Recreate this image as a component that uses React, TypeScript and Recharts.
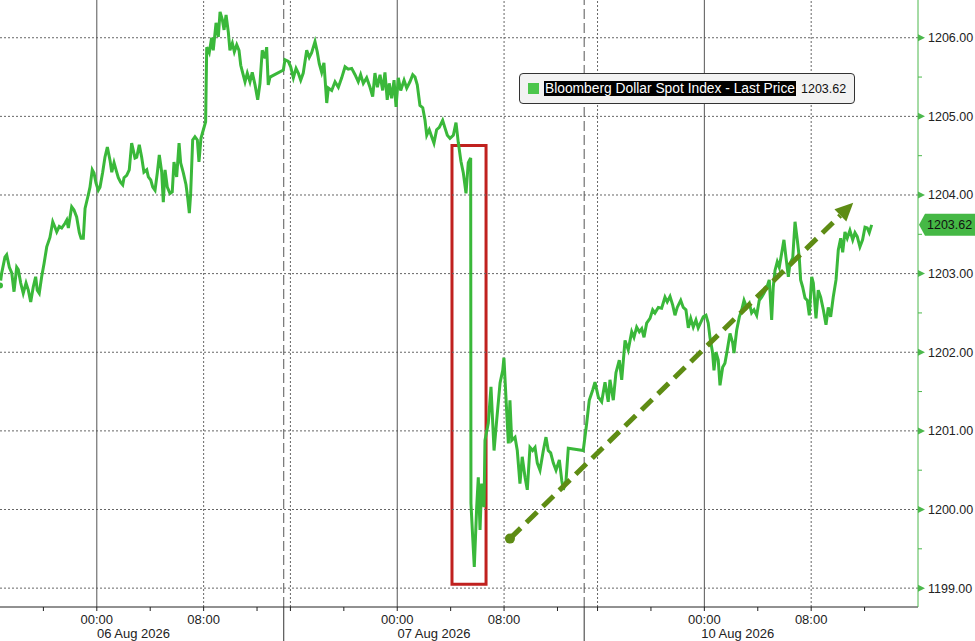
import { LineChart, Line, XAxis, YAxis, ReferenceLine, ReferenceArea } from 'recharts'

// x values are trading-session hours from the left edge (gaps between sessions squeezed out)
const aug6Times = [
  0.0, 0.13, 0.37, 0.5, 0.7, 0.88, 1.05, 1.25, 1.37, 1.55,
  1.74, 1.95, 2.12, 2.3, 2.49, 2.67, 2.79, 2.94, 3.12, 3.3,
  3.5, 3.74, 3.95, 4.12, 4.25, 4.44, 4.62, 4.87, 5.0, 5.12,
  5.24, 5.37, 5.54, 5.74, 5.94, 6.07, 6.24, 6.37, 6.61, 6.74,
  6.91, 7.04, 7.19, 7.36, 7.49, 7.69, 7.86, 8.04, 8.24, 8.37,
  8.54, 8.69, 8.86, 9.04, 9.19, 9.29, 9.49, 9.68, 9.86, 9.98,
  10.11, 10.24, 10.43, 10.61, 10.78, 10.99, 11.11, 11.29, 11.44, 11.61,
  11.78, 11.93, 12.11, 12.23, 12.36, 12.53, 12.73, 12.9, 13.03, 13.23,
  13.41, 13.53, 13.73, 13.93, 14.06, 14.18, 14.28, 14.43, 14.6, 14.78,
  14.9, 15.05, 15.23, 15.4, 15.48, 15.67, 15.85, 15.97, 16.18, 16.35,
  16.48, 16.65, 16.78, 16.93, 17.1, 17.22, 17.4, 17.55, 17.73, 17.9,
  18.03, 18.18, 18.35, 18.52, 18.72, 18.89, 19.1, 19.3, 19.47, 19.64,
  19.85, 19.97, 20.09, 20.22,
]
const aug6Prices = [
  1202.85, 1203.01, 1203.21, 1203.24, 1203.08, 1203.01, 1202.77, 1203.08, 1203.05, 1202.88,
  1202.75, 1202.88, 1202.79, 1202.64, 1202.83, 1202.96, 1202.79, 1202.75, 1202.96, 1203.13,
  1203.34, 1203.46, 1203.66, 1203.59, 1203.53, 1203.6, 1203.58, 1203.64, 1203.68, 1203.58,
  1203.71, 1203.85, 1203.81, 1203.72, 1203.52, 1203.45, 1203.45, 1203.83, 1204.0, 1204.1,
  1204.32, 1204.28, 1204.15, 1204.06, 1204.1, 1204.29, 1204.48, 1204.61, 1204.44, 1204.29,
  1204.41, 1204.32, 1204.22, 1204.16, 1204.13, 1204.22, 1204.25, 1204.32, 1204.66, 1204.57,
  1204.47, 1204.48, 1204.64, 1204.48, 1204.29, 1204.32, 1204.23, 1204.19, 1204.1, 1204.06,
  1204.28, 1204.51, 1204.29, 1203.91, 1204.32, 1204.1, 1204.02, 1204.04, 1204.42, 1204.23,
  1204.66, 1204.41, 1204.28, 1204.13, 1203.96, 1203.77, 1204.02, 1204.7, 1204.74, 1204.7,
  1204.42, 1204.72, 1204.83, 1204.93, 1205.88, 1205.81, 1206.0, 1205.84, 1206.19, 1206.01,
  1206.33, 1206.23, 1206.1, 1206.29, 1206.07, 1205.84, 1205.93, 1205.82, 1205.91, 1205.84,
  1205.65, 1205.55, 1205.44, 1205.55, 1205.44, 1205.56, 1205.4, 1205.21, 1205.42, 1205.84,
  1205.74, 1205.88, 1205.4, 1205.5,
]

const aug7Times = [
  21.22, 21.34, 21.59, 21.77, 21.97, 22.17, 22.34, 22.52, 22.71, 22.97,
  23.16, 23.34, 23.59, 23.76, 23.91, 24.09, 24.26, 24.47, 24.59, 24.84,
  25.09, 25.34, 25.59, 25.84, 26.08, 26.34, 26.59, 26.83, 27.01, 27.21,
  27.46, 27.71, 27.91, 28.08, 28.26, 28.46, 28.66, 28.83, 29.0, 29.15,
  29.33, 29.51, 29.66, 29.83, 30.01, 30.26, 30.46, 30.7, 30.91, 31.08,
  31.25, 31.45, 31.66, 31.83, 31.96, 32.15, 32.33, 32.5, 32.7, 32.9,
  33.15, 33.33, 33.5, 33.7, 33.95, 34.15, 34.32, 34.52, 34.7, 34.9,
  35.07, 35.25, 35.27, 35.4, 35.52, 35.7, 35.82, 35.95, 36.07, 36.25,
  36.32, 36.57, 36.77, 37.0, 37.2, 37.45, 37.65, 37.74, 37.89, 38.07,
  38.19, 38.32, 38.57, 38.74, 38.94, 39.11, 39.32, 39.49, 39.69, 39.89,
  40.07, 40.24, 40.44, 40.69, 40.89, 41.06, 41.24, 41.44, 41.64, 41.89,
  42.07, 42.19, 42.39, 42.56,
]
const aug7Prices = [
  1205.59, 1205.72, 1205.7, 1205.63, 1205.49, 1205.61, 1205.55, 1205.46, 1205.55, 1205.84,
  1205.75, 1205.81, 1205.95, 1205.82, 1205.67, 1205.56, 1205.68, 1205.17, 1205.36, 1205.33,
  1205.44, 1205.37, 1205.49, 1205.63, 1205.6, 1205.61, 1205.53, 1205.44, 1205.53, 1205.42,
  1205.49, 1205.37, 1205.25, 1205.55, 1205.37, 1205.53, 1205.33, 1205.56, 1205.21, 1205.42,
  1205.23, 1205.46, 1205.12, 1205.49, 1205.33, 1205.46, 1205.36, 1205.44, 1205.53, 1205.5,
  1205.4, 1205.14, 1205.11, 1204.95, 1204.76, 1204.83, 1204.74, 1204.66, 1204.83, 1204.86,
  1204.95, 1204.85, 1204.76, 1204.72, 1204.76, 1204.92, 1204.67, 1204.43, 1204.28, 1204.02,
  1204.41, 1204.47, 1200.08, 1199.65, 1199.27, 1200.03, 1200.41, 1199.74, 1200.33, 1200.03,
  1200.88, 1201.1, 1201.56, 1200.75, 1201.14, 1201.61, 1201.77, 1201.93, 1201.43, 1200.84,
  1201.39, 1200.88, 1200.92, 1200.75, 1200.33, 1200.67, 1200.41, 1200.25, 1200.79, 1200.75,
  1200.79, 1200.59, 1200.5, 1200.75, 1200.92, 1200.75, 1200.72, 1200.59, 1200.5, 1200.63,
  1200.37, 1200.25, 1200.37, 1200.78,
]

const aug10Times = [
  43.68, 43.94, 44.13, 44.39, 44.56, 44.81, 45.06, 45.31, 45.55, 45.68,
  45.93, 46.13, 46.38, 46.56, 46.81, 47.05, 47.31, 47.48, 47.68, 47.88,
  48.06, 48.23, 48.43, 48.68, 48.88, 49.05, 49.3, 49.55, 49.8, 49.97,
  50.18, 50.38, 50.55, 50.72, 50.98, 51.17, 51.37, 51.55, 51.73, 51.92,
  52.12, 52.29, 52.48, 52.67, 52.87, 53.04, 53.17, 53.37, 53.47, 53.62,
  53.79, 53.92, 54.12, 54.29, 54.47, 54.67, 54.87, 54.97, 55.17, 55.37,
  55.55, 55.72, 55.92, 56.12, 56.29, 56.47, 56.67, 56.86, 57.04, 57.21,
  57.42, 57.61, 57.79, 57.91, 58.04, 58.21, 58.36, 58.54, 58.71, 58.86,
  59.04, 59.16, 59.37, 59.54, 59.71, 59.86, 59.96, 60.11, 60.29, 60.46,
  60.61, 60.79, 60.91, 61.11, 61.28, 61.46, 61.66, 61.86, 62.03, 62.21,
  62.4, 62.61, 62.78, 62.96, 63.11, 63.28, 63.45, 63.65, 63.86, 64.03,
  64.2, 64.4, 64.6, 64.78, 64.95, 65.1, 65.28,
]
const aug10Prices = [
  1200.75, 1201.1, 1201.39, 1201.52, 1201.62, 1201.43, 1201.37, 1201.62, 1201.37, 1201.65,
  1201.39, 1201.74, 1201.9, 1201.65, 1202.15, 1202.03, 1202.26, 1202.19, 1202.32, 1202.26,
  1202.3, 1202.19, 1202.37, 1202.43, 1202.54, 1202.5, 1202.57, 1202.56, 1202.7, 1202.64,
  1202.71, 1202.6, 1202.47, 1202.57, 1202.66, 1202.57, 1202.54, 1202.31, 1202.43, 1202.32,
  1202.41, 1202.31, 1202.38, 1202.45, 1202.47, 1202.37, 1202.19, 1201.99, 1201.77, 1202.0,
  1201.9, 1201.58, 1201.81, 1201.86, 1202.03, 1202.24, 1202.12, 1201.99, 1202.28, 1202.45,
  1202.54, 1202.66, 1202.57, 1202.62, 1202.5, 1202.54, 1202.47, 1202.66, 1202.7, 1202.75,
  1202.82, 1202.92, 1202.41, 1202.83, 1203.04, 1203.15, 1203.08, 1203.26, 1203.43, 1203.21,
  1202.96, 1203.13, 1203.2, 1203.66, 1203.43, 1203.2, 1202.92, 1202.83, 1202.69, 1202.66,
  1202.47, 1202.96, 1202.88, 1202.43, 1202.79, 1202.7, 1202.54, 1202.35, 1202.57, 1202.45,
  1202.7, 1202.92, 1203.3, 1203.45, 1203.27, 1203.53, 1203.45, 1203.55, 1203.43, 1203.52,
  1203.47, 1203.34, 1203.43, 1203.59, 1203.58, 1203.52, 1203.62,
]

const seriesName = 'Bloomberg Dollar Spot Index - Last Price'
const lastPrice = 1203.62

const yTicks = [1199, 1200, 1201, 1202, 1203, 1204, 1205, 1206]
const yMinorTicks = [1199.5, 1200.5, 1201.5, 1202.5, 1203.5, 1204.5, 1205.5]

const hourTicks = [3.25, 7.25, 11.25, 15.25, 19.25, 21.75, 25.75, 29.75, 33.75, 37.75, 41.75, 44.75, 48.75, 52.75, 56.75, 60.75, 64.75]
const hourLabels = ['', '00:00', '', '08:00', '', '', '', '00:00', '', '08:00', '', '', '', '00:00', '', '08:00', '']
const midnights = [7.25, 29.75, 52.75]
const dottedHours = [15.25, 21.75, 37.75, 44.75, 60.75]
const sessionBreaks = [21.25, 43.75]
const dateCentres = [10, 32.5, 55.25]
const dateLabels = ['06 Aug 2026', '07 Aug 2026', '10 Aug 2026']

// annotations
const boxTimes = [33.85, 36.4]
const boxPrices = [1199.05, 1204.63]
const trendTimes = [38.19, 63.9]
const trendPrices = [1199.63, 1203.9]

const data = [
  ...aug6Times.map((t, i) => ({ t, price: aug6Prices[i] })),
  ...aug7Times.map((t, i) => ({ t, price: aug7Prices[i] })),
  ...aug10Times.map((t, i) => ({ t, price: aug10Prices[i] })),
]

const FONT = '"Liberation Sans", Arial, sans-serif'
const GREEN = '#3ab83a'
const AXIS_GREEN = '#4cb84c'
const OLIVE = '#5e8c14'

function XTick(props: any) {
  const { x, y, payload } = props
  const v = payload.value
  const h = hourTicks.indexOf(v)
  if (h >= 0) {
    return (
      <g>
        <line x1={x} x2={x} y1={y} y2={y + 4} stroke="#222" />
        {hourLabels[h] ? (
          <text x={x} y={y + 16.5} textAnchor="middle" fontSize={13} fill="#222" fontFamily={FONT}>
            {hourLabels[h]}
          </text>
        ) : null}
      </g>
    )
  }
  const d = dateCentres.indexOf(v)
  if (d >= 0) {
    return (
      <text x={x} y={y + 30.5} textAnchor="middle" fontSize={13} fill="#222" fontFamily={FONT}>
        {dateLabels[d]}
      </text>
    )
  }
  return <line x1={x} x2={x} y1={y} y2={y + 34} stroke="#333" />
}

function YTick(props: any) {
  const { x, y, payload } = props
  const v = payload.value
  if (Number.isInteger(v)) {
    return (
      <g>
        <path d={`M${x},${y - 3.5}L${x + 7},${y}L${x},${y + 3.5}Z`} fill={AXIS_GREEN} />
        <text x={x + 10} y={y} dy="0.36em" fontSize={12.5} fill="#222" fontFamily={FONT}>
          {v.toFixed(2)}
        </text>
      </g>
    )
  }
  return <line x1={x} x2={x + 4} y1={y} y2={y} stroke={AXIS_GREEN} />
}

function PriceTag(props: any) {
  const x = Math.max(props.x1, props.x2)
  const y = props.y1
  return (
    <g>
      <path d={`M${x + 1},${y} L${x + 7},${y - 11} H975 V${y + 11} H${x + 7} Z`} fill="#45b845" />
      <text x={x + 9} y={y} dy="0.36em" fontSize={12.5} fill="#111" fontFamily={FONT}>
        {lastPrice.toFixed(2)}
      </text>
    </g>
  )
}

function TrendArrow(props: any) {
  let { x1, y1, x2, y2 } = props
  if (x1 > x2) {
    ;[x1, x2] = [x2, x1]
    ;[y1, y2] = [y2, y1]
  }
  const len = Math.hypot(x2 - x1, y2 - y1)
  const ux = (x2 - x1) / len
  const uy = (y2 - y1) / len
  const head = 18
  const half = 8.5
  const bx = x2 - ux * head
  const by = y2 - uy * head
  return (
    <g>
      <line x1={x1} y1={y1} x2={bx} y2={by} stroke={OLIVE} strokeWidth={5} strokeDasharray="15 8" />
      <circle cx={x1} cy={y1} r={5} fill={OLIVE} />
      <path d={`M${x2},${y2} L${bx - uy * half},${by + ux * half} L${bx + uy * half},${by - ux * half} Z`} fill={OLIVE} />
    </g>
  )
}

export default function App() {
  return (
    <div style={{ position: 'relative', width: 975, height: 641, background: '#fff', fontFamily: FONT }}>
      <style>{'body{margin:0}'}</style>
      <LineChart width={975} height={641} data={data} margin={{ top: 0, right: 0, bottom: 0, left: 0 }}>
        <XAxis
          dataKey="t"
          type="number"
          domain={[0, 68.75]}
          allowDataOverflow
          ticks={[...hourTicks, ...dateCentres, ...sessionBreaks]}
          interval={0}
          tick={<XTick />}
          tickLine={false}
          tickSize={0}
          tickMargin={0}
          height={34}
          axisLine={{ stroke: '#222' }}
        />
        <YAxis
          orientation="right"
          type="number"
          domain={[1198.76, 1206.48]}
          allowDataOverflow
          ticks={[...yTicks, ...yMinorTicks]}
          interval={0}
          tick={<YTick />}
          tickLine={false}
          tickSize={0}
          tickMargin={0}
          width={57}
          axisLine={{ stroke: AXIS_GREEN }}
        />
        {yTicks.map((v) => (
          <ReferenceLine key={'h' + v} y={v} stroke="#666" strokeDasharray="2 2" />
        ))}
        {midnights.map((v) => (
          <ReferenceLine key={'m' + v} x={v} stroke="#555" />
        ))}
        {dottedHours.map((v) => (
          <ReferenceLine key={'d' + v} x={v} stroke="#666" strokeDasharray="2 2" />
        ))}
        {sessionBreaks.map((v) => (
          <ReferenceLine key={'s' + v} x={v} stroke="#555" strokeDasharray="10 4" />
        ))}
        <Line
          type="linear"
          dataKey="price"
          stroke={GREEN}
          strokeWidth={3}
          dot={false}
          isAnimationActive={false}
        />
        <ReferenceArea
          x1={boxTimes[0]}
          x2={boxTimes[1]}
          y1={boxPrices[0]}
          y2={boxPrices[1]}
          fill="none"
          stroke="#c0211f"
          strokeWidth={3}
        />
        <ReferenceLine
          segment={[
            { x: trendTimes[0], y: trendPrices[0] },
            { x: trendTimes[1], y: trendPrices[1] },
          ]}
          shape={TrendArrow}
        />
        <ReferenceLine y={lastPrice} stroke="none" ifOverflow="visible" shape={PriceTag} />
      </LineChart>
      <div
        style={{
          position: 'absolute',
          left: 519,
          top: 73,
          width: 336,
          height: 31,
          boxSizing: 'border-box',
          border: '1px solid #333',
          borderRadius: 4,
          background: '#f2f2f2',
          display: 'flex',
          alignItems: 'center',
          paddingLeft: 8,
          fontFamily: FONT,
        }}
      >
        <span style={{ width: 11, height: 11, background: '#4cc64c', marginRight: 5 }} />
        <span style={{ background: '#000', color: '#fff', padding: '0 1px', fontSize: 13.8, lineHeight: '15px' }}>
          {seriesName}
        </span>
        <span style={{ marginLeft: 5, fontSize: 12.5, color: '#111' }}>{lastPrice.toFixed(2)}</span>
      </div>
    </div>
  )
}
